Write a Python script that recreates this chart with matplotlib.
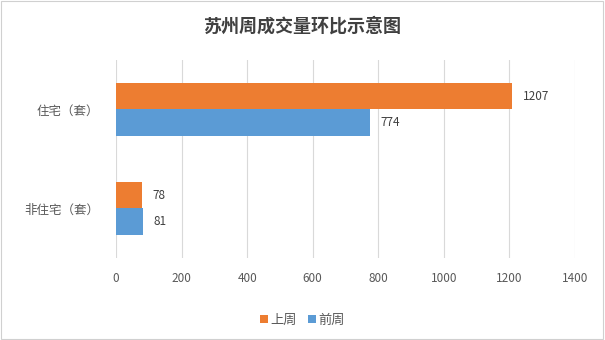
import numpy as np
import matplotlib
matplotlib.use("Agg")
from matplotlib import pyplot as plt
from matplotlib.patches import Rectangle

plt.rcParams['font.family'] = ['Noto Sans CJK SC', 'DejaVu Sans']

categories = ["住宅（套）", "非住宅（套）"]
series_names = ["上周", "前周"]
last_week = [1207, 78]
prev_week = [774, 81]
x_ticks = [0, 200, 400, 600, 800, 1000, 1200, 1400]

orange = '#ED7D31'
blue = '#5B9BD5'
text_gray = '#595959'

fig = plt.figure(figsize=(6.05, 3.4), dpi=100)
fig.patches.append(Rectangle((0.002, 0.003), 0.995, 0.994, transform=fig.transFigure,
                             fill=False, edgecolor='#d0d0d0', linewidth=0.8))
ax = fig.add_axes([0.1917, 0.2412, 0.7587, 0.5824])

y = np.arange(len(categories))
h = 0.265
b1 = ax.barh(y - h / 2, last_week, height=h, color=orange, label=series_names[0], zorder=3)
b2 = ax.barh(y + h / 2, prev_week, height=h, color=blue, label=series_names[1], zorder=3)

for bars, vals in [(b1, last_week), (b2, prev_week)]:
    for bar, v in zip(bars, vals):
        ax.annotate(str(v), (bar.get_width(), bar.get_y() + bar.get_height() / 2),
                    xytext=(8, 0), textcoords='offset points', va='center', ha='left',
                    fontsize=8.5, color='#404040')

ax.set_ylim(len(categories) - 0.5, -0.5)
ax.set_xlim(0, 1400)
ax.set_xticks(x_ticks)
ax.set_yticks(y)
ax.set_yticklabels(categories)
ax.tick_params(axis='x', length=0, pad=10, labelsize=8.5, labelcolor=text_gray)
ax.tick_params(axis='y', length=0, pad=12, labelsize=9, labelcolor=text_gray)
ax.grid(axis='x', color='#d9d9d9', linewidth=0.8, zorder=0)
for s in ax.spines.values():
    s.set_visible(False)

fig.suptitle("苏州周成交量环比示意图", y=0.95, fontsize=13, color='#404040',
             fontweight='bold')
fig.legend(loc='center', bbox_to_anchor=(0.5, 0.058), ncol=2, frameon=False,
           fontsize=9.5, handlelength=0.6, handleheight=0.6, handletextpad=0.2,
           columnspacing=0.8, labelcolor=text_gray)

fig.savefig("out.png", dpi=100)
